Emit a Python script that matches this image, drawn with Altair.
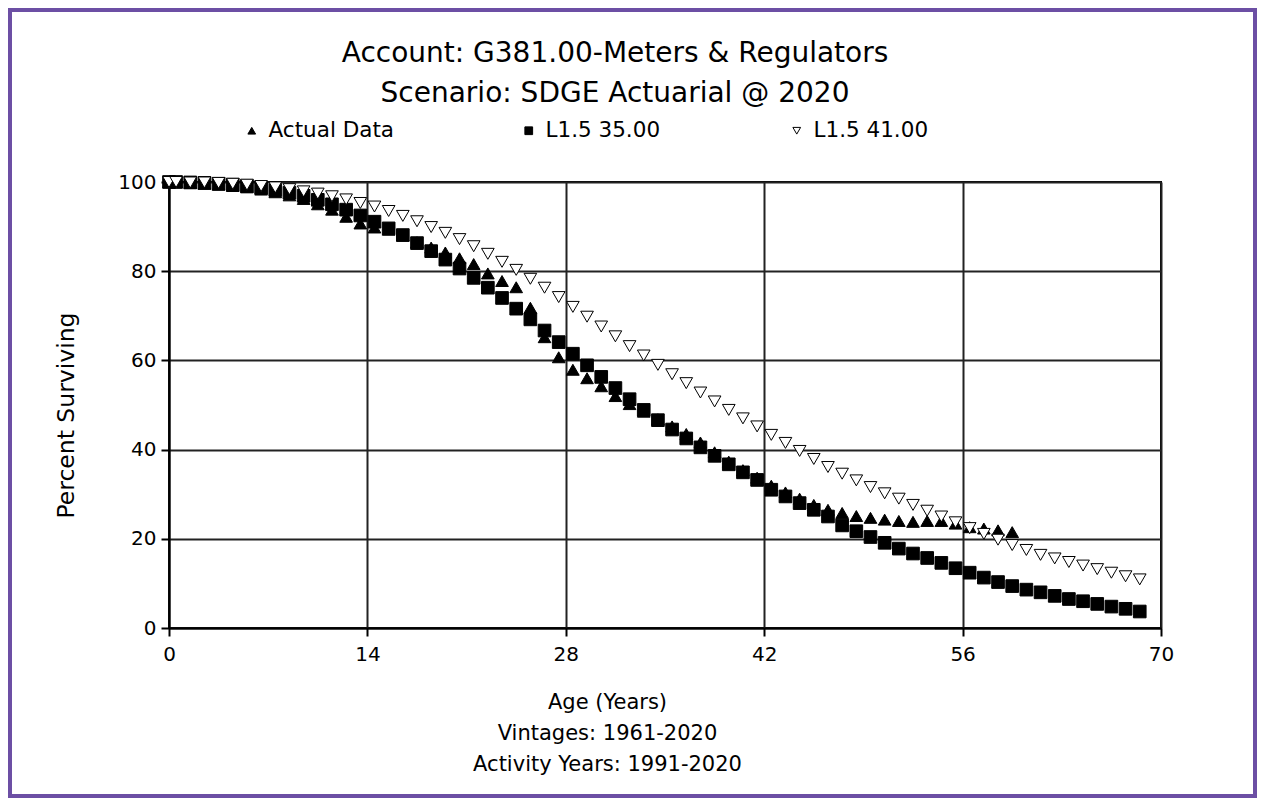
import altair as alt
import pandas as pd

# ---------------- data ----------------
ages_curve = [0, 0.5] + [i + 0.5 for i in range(1, 69)]          # 0 .. 68.5
ages_actual = [0, 0.5] + [i + 0.5 for i in range(1, 60)]         # 0 .. 59.5

actual_data = [100.0, 100.0, 99.8, 99.6, 99.4, 99.1, 98.8, 98.3, 97.7, 97.0,
               96.2, 95.0, 93.8, 92.2, 90.7, 89.8, 89.3, 88.0, 86.5, 85.3,
               84.2, 82.9, 81.6, 79.5, 77.8, 76.4, 71.8, 65.2, 60.7, 57.9,
               56.0, 54.2, 52.0, 50.2, 48.5, 46.8, 45.2, 43.5, 41.6, 39.4,
               37.3, 35.4, 33.7, 31.9, 30.4, 29.0, 27.6, 26.5, 25.8, 25.1,
               24.7, 24.3, 24.0, 23.8, 24.0, 24.0, 23.4, 22.6, 22.3, 21.9,
               21.5]

l15_35 = [100.0, 100.0, 99.9, 99.8, 99.6, 99.4, 99.1, 98.7, 98.2, 97.6,
          96.9, 96.0, 95.0, 93.8, 92.5, 91.1, 89.6, 88.1, 86.3, 84.5,
          82.6, 80.6, 78.5, 76.3, 74.0, 71.6, 69.2, 66.7, 64.1, 61.5,
          58.9, 56.3, 53.8, 51.3, 48.9, 46.6, 44.5, 42.5, 40.5, 38.6,
          36.7, 34.9, 33.2, 31.0, 29.5, 28.0, 26.5, 25.0, 23.0, 21.7,
          20.4, 19.1, 17.8, 16.7, 15.7, 14.6, 13.4, 12.4, 11.3, 10.3,
          9.4, 8.6, 8.0, 7.2, 6.5, 6.0, 5.4, 4.8, 4.3, 3.7]

l15_41 = [100.0, 100.0, 99.9, 99.9, 99.8, 99.6, 99.4, 99.1, 98.8, 98.4,
          97.9, 97.4, 96.8, 96.1, 95.3, 94.5, 93.5, 92.4, 91.2, 89.9,
          88.6, 87.2, 85.6, 83.9, 82.1, 80.3, 78.3, 76.3, 74.2, 72.0,
          69.8, 67.6, 65.4, 63.2, 61.1, 59.0, 56.9, 54.9, 52.8, 50.8,
          48.9, 47.0, 45.2, 43.3, 41.5, 39.7, 37.9, 36.1, 34.6, 33.1,
          31.6, 30.2, 29.0, 27.6, 26.3, 25.0, 23.7, 22.4, 21.1, 19.8,
          18.6, 17.5, 16.4, 15.6, 14.8, 14.0, 13.2, 12.4, 11.6, 10.9]

series_names = ["Actual Data", "L1.5 35.00", "L1.5 41.00"]
series_shapes = ["triangle-up", "square", "triangle-down"]
series_fills = ["black", "black", "white"]
legend_x = [72, 349, 617]

x_ticks = [0, 14, 28, 42, 56, 70]
y_ticks = [0, 20, 40, 60, 80, 100]

title_lines = ["Account: G381.00-Meters & Regulators", "Scenario: SDGE Actuarial @ 2020"]
x_title = ["Age (Years)", "Vintages: 1961-2020", "Activity Years: 1991-2020"]
y_title = "Percent Surviving"

frames = [
    pd.DataFrame({"series": series_names[0], "age": ages_actual, "value": actual_data}),
    pd.DataFrame({"series": series_names[1], "age": ages_curve, "value": l15_35}),
    pd.DataFrame({"series": series_names[2], "age": ages_curve, "value": l15_41}),
]
df = pd.concat(frames, ignore_index=True)

FONT = "DejaVu Sans"
W, H = 992, 446

x_enc = alt.X("age:Q", scale=alt.Scale(domain=[0, 70], nice=False),
              axis=alt.Axis(values=x_ticks, grid=True, gridColor="#222222", gridWidth=2,
                            domainColor="black", domainWidth=2, tickColor="black",
                            tickSize=8, tickWidth=2, labelFont=FONT, labelFontSize=20,
                            labelColor="black", labelPadding=8, labelFlush=False,
                            title=x_title, titleFont=FONT, titleFontSize=21,
                            titleFontWeight="normal", titleColor="black",
                            titleLineHeight=31, titleX=438, titleY=63,
                            titleAlign="center", titleBaseline="top"))
y_enc = alt.Y("value:Q", scale=alt.Scale(domain=[0, 100], nice=False),
              axis=alt.Axis(values=y_ticks, grid=True, gridColor="#222222", gridWidth=2,
                            domainColor="black", domainWidth=2, tickColor="black",
                            tickSize=8, tickWidth=2, labelFont=FONT, labelFontSize=20,
                            labelColor="black", labelPadding=5,
                            title=y_title, titleFont=FONT, titleFontSize=23.5,
                            titleFontWeight="normal", titleColor="black",
                            titleX=-103, titleY=233, titleAngle=270,
                            titleAlign="center", titleBaseline="middle"))

layers = []
for name, shp, fc, lx in zip(series_names, series_shapes, series_fills, legend_x):
    leg = alt.Legend(orient="none", legendX=lx, legendY=-62, title=None,
                     labelFont=FONT, labelFontSize=21.5, labelColor="black",
                     symbolSize=60, symbolStrokeColor="black", symbolStrokeWidth=1,
                     labelOffset=6)
    layer = (
        alt.Chart(df)
        .transform_filter(alt.datum.series == name)
        .mark_point(filled=True, size=160, strokeWidth=1, opacity=1)
        .encode(
            x=x_enc,
            y=y_enc,
            shape=alt.Shape("series:N", scale=alt.Scale(domain=[name], range=[shp]), legend=leg),
            fill=alt.Fill("series:N", scale=alt.Scale(domain=[name], range=[fc]), legend=leg),
            stroke=alt.Stroke("series:N", scale=alt.Scale(domain=[name], range=["black"]), legend=leg),
        )
    )
    layers.append(layer)

frame = alt.Chart(pd.DataFrame({"a": [0]})).mark_rect(
    fill="transparent", stroke="#6c4fa4", strokeWidth=4, clip=False
).encode(x=alt.value(-159), x2=alt.value(1086), y=alt.value(-172), y2=alt.value(614))

chart = (
    alt.layer(frame, *layers)
    .resolve_scale(shape="independent", fill="independent", stroke="independent")
    .properties(
        width=W, height=H,
        title=alt.TitleParams(text=title_lines, font=FONT, fontSize=28, fontWeight="normal",
                              color="black", anchor="middle", frame="group", dx=-50,
                              lineHeight=40, offset=0, dy=100),
        autosize=alt.AutoSizeParams(type="none"),
        padding={"left": 161, "top": 174, "right": 96, "bottom": 170},
        background="white",
    )
    .configure_view(stroke="black", strokeWidth=2)
)

chart.save("out.html", embed_options={"renderer": "svg", "actions": False})
